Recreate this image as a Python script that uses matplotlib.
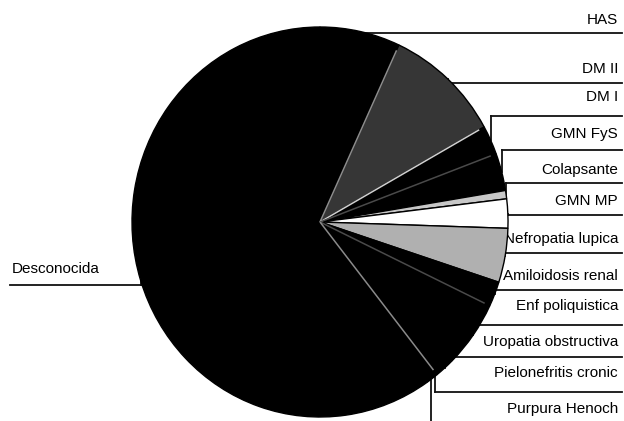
import numpy as np
import matplotlib
matplotlib.use("Agg")
import matplotlib.pyplot as plt

# ---------------- data (counts per diagnosis) ----------------
labels = ["HAS", "DM II", "DM I", "GMN FyS", "Colapsante", "GMN MP",
          "Nefropatia lupica", "Amiloidosis renal", "Enf poliquistica",
          "Uropatia obstructiva", "Pielonefritis cronic", "Purpura Henoch",
          "Desconocida"]
counts = [20, 29, 7, 9, 2, 7, 13, 6, 16, 5, 1, 2, 173]

# ---------------- styling / layout ----------------
slice_colors = ["#000000", "#363636", "#000000", "#000000", "#c8c8c8", "#ffffff",
                "#b0b0b0", "#000000", "#000000", "#000000", "#000000", "#000000",
                "#000000"]
# light radial lines drawn after some slices (index -> colour)
boundary_colors = {0: "#8c8c8c", 1: "#d0d0d0", 2: "#4a4a4a", 7: "#4a4a4a", 9: "#8a8a8a"}

W, H = 624, 421
cx, cy, rx, ry = 320, 222, 188, 195          # pie in pixels

text_y = [20, 69, 97, 134, 170, 201, 239, 276, 306, 342, 373, 409]
line_y = [33, 83, 116, 150, 183, 215, 253, 290, 325, 357, 392, 428]
left_text = (12, 269)
left_line_y = 285

plt.rcParams["font.family"] = ["Liberation Sans", "DejaVu Sans"]

fig = plt.figure(figsize=(W / 100, H / 100), dpi=100)
fig.patch.set_facecolor("white")

# overlay axes in pixel coordinates (under the pie)
ov = fig.add_axes([0, 0, 1, 1])
ov.set_xlim(0, W)
ov.set_ylim(H, 0)
ov.axis("off")

# pie axes
ax = fig.add_axes([(cx - rx) / W, (H - (cy + ry)) / H, 2 * rx / W, 2 * ry / H])
ax.patch.set_alpha(0)
ax.pie(counts, startangle=90, counterclock=False, colors=slice_colors,
       wedgeprops=dict(edgecolor="#000000", linewidth=1.0))
ax.set_aspect("auto")
ax.set_xlim(-1, 1)
ax.set_ylim(-1, 1)
ax.axis("off")

total = float(sum(counts))
cum = np.cumsum(counts) / total * 360.0
starts = np.concatenate([[0.0], cum[:-1]])
mids = (starts + cum) / 2

for i, col in boundary_colors.items():
    th = np.radians(cum[i])
    ax.plot([0, 0.97 * np.sin(th)], [0, 0.97 * np.cos(th)], color=col, lw=1.1,
            solid_capstyle="butt")

# ---------------- labels with leader lines ----------------
lc = "#111111"
for i, lab in enumerate(labels[:-1]):
    th = np.radians(mids[i])
    ax_x = cx + rx * np.sin(th)
    ax_y = cy - ry * np.cos(th)
    ov.plot([622, ax_x], [line_y[i], line_y[i]], color=lc, lw=1.3)
    ov.plot([ax_x, ax_x], [line_y[i], ax_y], color=lc, lw=1.3)
    ov.text(618, text_y[i], lab, ha="right", va="center", fontsize=11, color="#000000")

th = np.radians(mids[-1])
ax_x = cx + rx * np.sin(th)
ax_y = cy - ry * np.cos(th)
ov.plot([10, ax_x], [left_line_y, left_line_y], color=lc, lw=1.3)
ov.plot([ax_x, ax_x], [left_line_y, ax_y], color=lc, lw=1.3)
ov.text(left_text[0], left_text[1], labels[-1], ha="left", va="center",
        fontsize=11, color="#000000")

fig.savefig("out.png", dpi=100)
plt.close(fig)
